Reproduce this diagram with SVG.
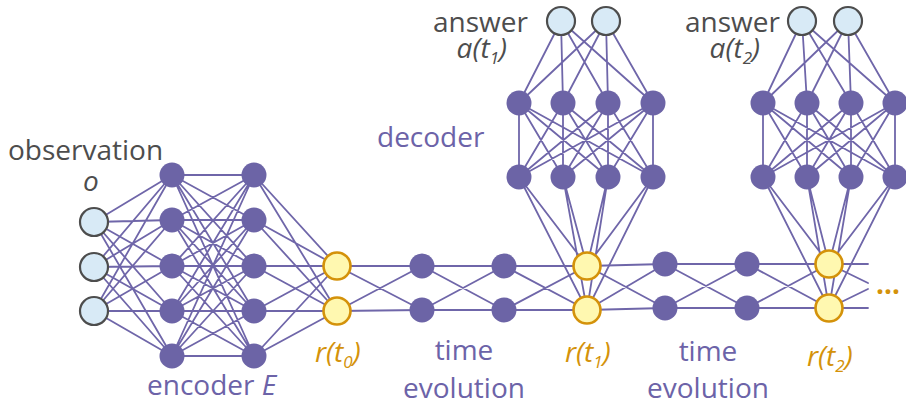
<svg xmlns="http://www.w3.org/2000/svg" width="906" height="409" viewBox="0 0 906 409">
<style>
.c{fill:none;stroke:#6f66a9;stroke-width:1.8;stroke-linecap:round}
.n{fill:#6c64a6}
.io{fill:#d8eaf6;stroke:#4d4d4d;stroke-width:2.2}
.r{fill:#fff8b0;stroke:#d4920a;stroke-width:2.6}
text{font-family:"Open Sans","Noto Sans",sans-serif;font-size:28px}
.g{fill:#4d4d4d}
.p{fill:#6c63a8}
.o{fill:#d4920a}
.i{font-style:italic}
</style>
<rect width="906" height="409" fill="#ffffff"/>
<g id="connectors">
<path class="c" d="M94 222L172 175M94 222L172 220M94 222L172 266M94 222L172 311M94 222L172 356M94 267L172 175M94 267L172 220M94 267L172 266M94 267L172 311M94 267L172 356M94 311L172 175M94 311L172 220M94 311L172 266M94 311L172 311M94 311L172 356"/>
<path class="c" d="M172 175L254 175M172 175L254 220M172 175L254 266M172 175L254 311M172 175L254 356M172 220L254 175M172 220L254 220M172 220L254 266M172 220L254 311M172 220L254 356M172 266L254 175M172 266L254 220M172 266L254 266M172 266L254 311M172 266L254 356M172 311L254 175M172 311L254 220M172 311L254 266M172 311L254 311M172 311L254 356M172 356L254 175M172 356L254 220M172 356L254 266M172 356L254 311M172 356L254 356"/>
<path class="c" d="M254 175L337 266M254 175L337 311M254 220L337 266M254 220L337 311M254 266L337 266M254 266L337 311M254 311L337 266M254 311L337 311M254 356L337 266M254 356L337 311"/>
<path class="c" d="M337 266L422 266M337 266L422 310M337 311L422 266M337 311L422 310M422 266L504 266M422 266L504 310M422 310L504 266M422 310L504 310M504 266L587 266M504 266L587 310M504 310L587 266M504 310L587 310"/>
<path class="c" d="M587 266L665 264M587 266L665 308M587 310L665 264M587 310L665 308M665 264L747 264M665 264L747 308M665 308L747 264M665 308L747 308M747 264L829 264M747 264L829 308M747 308L829 264M747 308L829 308"/>
<path class="c" d="M829 264L868 264M829 308L868 308M829 264L868 283M829 308L868 289"/>
<path class="c" d="M561 21L519 103M561 21L563 103M561 21L608 103M561 21L653 103M606 21L519 103M606 21L563 103M606 21L608 103M606 21L653 103"/>
<path class="c" d="M519 103L519 177M519 103L563 177M519 103L608 177M519 103L653 177M563 103L519 177M563 103L563 177M563 103L608 177M563 103L653 177M608 103L519 177M608 103L563 177M608 103L608 177M608 103L653 177M653 103L519 177M653 103L563 177M653 103L608 177M653 103L653 177"/>
<path class="c" d="M519 177L587 266M519 177L587 310M563 177L587 266M563 177L587 310M608 177L587 266M608 177L587 310M653 177L587 266M653 177L587 310"/>
<path class="c" d="M802 21L763 103M802 21L807 103M802 21L851 103M802 21L895 103M848 21L763 103M848 21L807 103M848 21L851 103M848 21L895 103"/>
<path class="c" d="M763 103L763 177M763 103L807 177M763 103L851 177M763 103L895 177M807 103L763 177M807 103L807 177M807 103L851 177M807 103L895 177M851 103L763 177M851 103L807 177M851 103L851 177M851 103L895 177M895 103L763 177M895 103L807 177M895 103L851 177M895 103L895 177"/>
<path class="c" d="M763 177L829 264M763 177L829 308M807 177L829 264M807 177L829 308M851 177L829 264M851 177L829 308M895 177L829 264M895 177L829 308"/>
</g>
<g id="observation">
<circle class="io" cx="94" cy="222" r="14"/>
<circle class="io" cx="94" cy="267" r="14"/>
<circle class="io" cx="94" cy="311" r="14"/>
<text class="g" x="8" y="160">observation</text>
<text class="g i" x="91" y="191" text-anchor="middle">o</text>
</g>
<g id="encoder">
<circle class="n" cx="172" cy="175" r="12.5"/>
<circle class="n" cx="172" cy="220" r="12.5"/>
<circle class="n" cx="172" cy="266" r="12.5"/>
<circle class="n" cx="172" cy="311" r="12.5"/>
<circle class="n" cx="172" cy="356" r="12.5"/>
<circle class="n" cx="254" cy="175" r="12.5"/>
<circle class="n" cx="254" cy="220" r="12.5"/>
<circle class="n" cx="254" cy="266" r="12.5"/>
<circle class="n" cx="254" cy="311" r="12.5"/>
<circle class="n" cx="254" cy="356" r="12.5"/>
<text class="p" x="147" y="395">encoder <tspan class="i">E</tspan></text>
</g>
<g id="r-t0">
<circle class="r" cx="337" cy="266" r="13.5"/>
<circle class="r" cx="337" cy="311" r="13.5"/>
<text class="o i" x="315" y="362">r(t<tspan font-size="17" dy="6">0</tspan><tspan dy="-6">)</tspan></text>
</g>
<g id="time-evolution-1">
<circle class="n" cx="422" cy="266" r="12.5"/>
<circle class="n" cx="422" cy="310" r="12.5"/>
<circle class="n" cx="504" cy="266" r="12.5"/>
<circle class="n" cx="504" cy="310" r="12.5"/>
<text class="p" x="464" y="360" text-anchor="middle">time</text>
<text class="p" x="464" y="398" text-anchor="middle">evolution</text>
</g>
<g id="r-t1">
<circle class="r" cx="587" cy="266" r="13.5"/>
<circle class="r" cx="587" cy="310" r="13.5"/>
<text class="o i" x="565" y="362">r(t<tspan font-size="17" dy="6">1</tspan><tspan dy="-6">)</tspan></text>
</g>
<g id="decoder-1">
<circle class="n" cx="519" cy="103" r="12.5"/>
<circle class="n" cx="563" cy="103" r="12.5"/>
<circle class="n" cx="608" cy="103" r="12.5"/>
<circle class="n" cx="653" cy="103" r="12.5"/>
<circle class="n" cx="519" cy="177" r="12.5"/>
<circle class="n" cx="563" cy="177" r="12.5"/>
<circle class="n" cx="608" cy="177" r="12.5"/>
<circle class="n" cx="653" cy="177" r="12.5"/>
<text class="p" x="377" y="147">decoder</text>
</g>
<g id="answer-1">
<circle class="io" cx="561" cy="21" r="14"/>
<circle class="io" cx="606" cy="21" r="14"/>
<text class="g" x="433" y="31.5">answer</text>
<text class="g i" x="507" y="57.5" text-anchor="end">a(t<tspan font-size="17" dy="6">1</tspan><tspan dy="-6">)</tspan></text>
</g>
<g id="time-evolution-2">
<circle class="n" cx="665" cy="264" r="12.5"/>
<circle class="n" cx="665" cy="308" r="12.5"/>
<circle class="n" cx="747" cy="264" r="12.5"/>
<circle class="n" cx="747" cy="308" r="12.5"/>
<text class="p" x="708" y="361" text-anchor="middle">time</text>
<text class="p" x="708" y="398" text-anchor="middle">evolution</text>
</g>
<g id="r-t2">
<circle class="r" cx="829" cy="264" r="13.5"/>
<circle class="r" cx="829" cy="308" r="13.5"/>
<text class="o i" x="807" y="366">r(t<tspan font-size="17" dy="6">2</tspan><tspan dy="-6">)</tspan></text>
<text class="o" x="876" y="294" font-size="38" font-weight="bold">…</text>
</g>
<g id="decoder-2">
<circle class="n" cx="763" cy="103" r="12.5"/>
<circle class="n" cx="807" cy="103" r="12.5"/>
<circle class="n" cx="851" cy="103" r="12.5"/>
<circle class="n" cx="895" cy="103" r="12.5"/>
<circle class="n" cx="763" cy="177" r="12.5"/>
<circle class="n" cx="807" cy="177" r="12.5"/>
<circle class="n" cx="851" cy="177" r="12.5"/>
<circle class="n" cx="895" cy="177" r="12.5"/>
</g>
<g id="answer-2">
<circle class="io" cx="802" cy="21" r="14"/>
<circle class="io" cx="848" cy="21" r="14"/>
<text class="g" x="685" y="31.5">answer</text>
<text class="g i" x="760" y="57.5" text-anchor="end">a(t<tspan font-size="17" dy="6">2</tspan><tspan dy="-6">)</tspan></text>
</g>
</svg>
